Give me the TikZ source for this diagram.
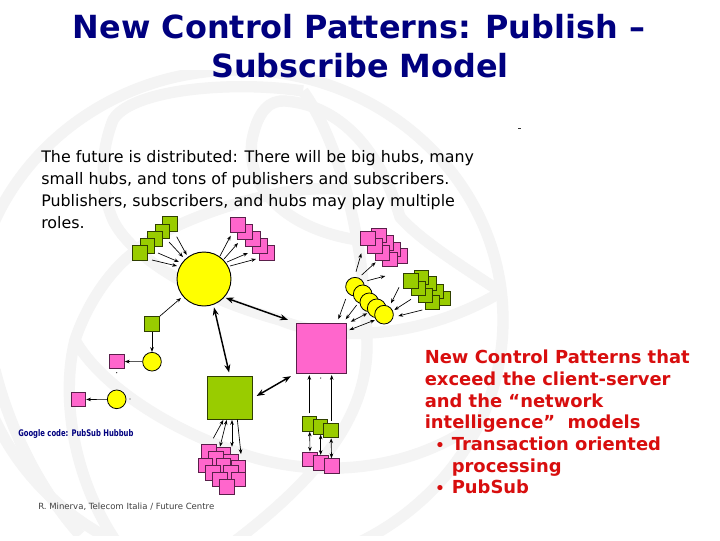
\documentclass[tikz,border=0pt]{standalone}
\usepackage{fontspec}
\setmainfont{DejaVu Sans}
\usetikzlibrary{arrows.meta}
\definecolor{navy}{HTML}{00007F}
\definecolor{redtxt}{HTML}{D80E0E}
\definecolor{pinkbox}{HTML}{FF66CC}
\definecolor{pinkedge}{HTML}{5A1F4A}
\definecolor{greenbox}{HTML}{99CC00}
\definecolor{greenedge}{HTML}{2F3F00}
\definecolor{yel}{HTML}{FFFF00}
\definecolor{wm}{HTML}{F4F4F4}
\tikzset{
  band/.style={draw=wm,line width=8.5pt},
  pinkbx/.style={draw=pinkedge,fill=pinkbox,line width=0.6pt,inner sep=0pt,minimum size=11pt},
  greenbx/.style={draw=greenedge,fill=greenbox,line width=0.6pt,inner sep=0pt,minimum size=10.8pt},
  yelc/.style={circle,draw=black,fill=yel,line width=0.6pt,inner sep=0pt,minimum size=14pt},
  thinarr/.style={-{Stealth[length=3.6pt,width=2.7pt]},line width=0.5pt,black},
  thinboth/.style={{Stealth[length=3.6pt,width=2.7pt]}-{Stealth[length=3.6pt,width=2.7pt]},line width=0.5pt,black},
  thickboth/.style={{Stealth[length=6pt,width=4.5pt]}-{Stealth[length=6pt,width=4.5pt]},line width=1.1pt,black},
  para/.style={anchor=base west,inner sep=0pt,font=\fontsize{11.9pt}{13pt}\selectfont},
  redline/.style={anchor=base west,inner sep=0pt,text=redtxt,font=\fontsize{13.45pt}{15pt}\bfseries\selectfont},
  redbullet/.style={redline,font=\fontsize{11pt}{13pt}\bfseries\selectfont},
  titleline/.style={inner sep=0pt,text=navy,font=\fontsize{23.9pt}{28pt}\bfseries\selectfont},
}
% connector with named free ends
\newcommand{\conn}[4]{\coordinate (#2s) at (#3); \coordinate (#2e) at (#4); \draw[#1] (#2s) -- (#2e);}
\begin{document}
\begin{tikzpicture}[x=0.75pt,y=-0.75pt]
\useasboundingbox (0,0) rectangle (720,540);
\fill[white] (0,0) rectangle (720,540);
% watermark globe
\begin{scope}
\clip (0,70) rectangle (720,535);
\draw[band] (238,320) ellipse [x radius=265,y radius=250];
\draw[band] (303,91) .. controls (230,80) and (130,90) .. (113,120) .. controls (100,153) and (100,190) .. (113,220) .. controls (130,255) and (190,295) .. (280,320) .. controls (340,345) and (430,335) .. (501,292);
\draw[band] (303,91) .. controls (345,150) and (367,260) .. (367,350) .. controls (365,410) and (330,470) .. (230,545);
\draw[band] (75,340) .. controls (100,385) and (170,430) .. (240,453) .. controls (300,475) and (400,480) .. (481,420);
\draw[band] (358,240) .. controls (290,230) and (245,190) .. (252,140) .. controls (258,110) and (270,100) .. (285,101) .. controls (340,105) and (380,150) .. (400,217) .. controls (420,240) and (460,265) .. (501,292);
\draw[band] (345,190) .. controls (280,180) and (160,225) .. (133,253) .. controls (105,275) and (85,310) .. (75,340) .. controls (60,400) and (75,480) .. (115,540);
\draw[band] (-5,370) .. controls (10,430) and (40,490) .. (80,535);
\end{scope}
% title
\node[titleline] (t1) at (359,27) {New Control Patterns: Publish –};
\node[titleline] (t2) at (360,66) {Subscribe Model};
% dash
\coordinate (dashA) at (518,128); \coordinate (dashB) at (521,128);
\draw[line width=0.6pt,black!80] (dashA) -- (dashB);
% paragraph
\node[para] (p1) at (41,162) {The future is distributed: There will be big hubs, many};
\node[para] (p2) at (41,184) {small hubs, and tons of publishers and subscribers.};
\node[para] (p3) at (41,206) {Publishers, subscribers, and hubs may play multiple};
\node[para] (p4) at (41,228) {roles.};
% red text
\node[redline] (r1) at (424.5,363) {New Control Patterns that};
\node[redline] (r2) at (424.5,385) {exceed the client-server};
\node[redline] (r3) at (424.5,407) {and the “network};
\node[redline] (r4) at (424.5,428.5) {intelligence”\ \ models};
\node[redbullet] (rb1) at (435,450.5) {•};
\node[redline] (r5) at (451.5,450.5) {Transaction oriented};
\node[redline] (r6) at (451.5,472) {processing};
\node[redbullet] (rb2) at (435,493.5) {•};
\node[redline] (r7) at (451.5,493.5) {PubSub};
% credit and link
\node[anchor=west,inner sep=0pt,text=black!75,font=\fontsize{6.4pt}{8pt}\selectfont] (cr) at (38,507) {R. Minerva, Telecom Italia / Future Centre};
\node[anchor=west,inner sep=0pt,text=navy,font=\fontsize{6.2pt}{8pt}\bfseries\selectfont] (gc) at (18,434) {\scalebox{0.825}[1.1]{Google code:  PubSub Hubbub}};
% top-left green and pink rows
\foreach \x/\y [count=\i] in {170/224,162.5/231.5,155/239,147.5/246,140/253}
  \node[greenbx] (ga\i) at (\x,\y) {};
\foreach \x/\y [count=\i] in {267/253,260/246,253/239,245/232,238/225}
  \node[pinkbx] (pa\i) at (\x,\y) {};
% hub
\node[circle,draw=black,fill=yel,line width=0.7pt,inner sep=0pt,minimum size=40.5pt] (hub) at (204,279) {};
\conn{thinarr}{f1}{176.7,236.7}{186.7,255}
\conn{thinarr}{f2}{169,242}{183,257}
\conn{thinarr}{f3}{158,253}{179,262}
\conn{thinarr}{f4}{152,260}{177,266}
\conn{thinarr}{h1}{220,256}{230.7,235.7}
\conn{thinarr}{h2}{224,259}{238,243}
\conn{thinarr}{h3}{227,262}{248,253}
\conn{thinarr}{h4}{230,266}{256,259}
% small chains left
\node[greenbx,minimum size=11.2pt] (sg) at (152,324) {};
\node[yelc] (y1) at (152,361.7) {};
\node[pinkbx] (sp1) at (117,361.5) {};
\node[yelc] (y2) at (116.7,399.3) {};
\node[pinkbx] (sp2) at (78.5,399.5) {};
\draw[thinarr] (sg) -- (y1);
\draw[thinarr] (y1) -- (sp1);
\draw[thinarr] (y2) -- (sp2);
\coordinate (sgh) at (181,298);
\draw[thinarr] (sg.north east) -- (sgh);
\fill[black!80] (116.7,372.7) circle (0.7);
\fill[black!80] (130,399) circle (0.7);
% big boxes
\node[draw=pinkedge,fill=pinkbox,line width=0.7pt,inner sep=0pt,minimum size=37.5pt] (bigp) at (321,348) {};
\node[draw=greenedge,fill=greenbox,line width=0.7pt,inner sep=0pt,minimum width=34pt,minimum height=31.7pt] (bigg) at (230,398) {};
\draw[thickboth,shorten <=1pt,shorten >=6pt] (hub.-42) -- (bigp.north west);
\draw[thickboth,shorten <=2pt,shorten >=3pt] (hub.-70) -- (bigg.north);
\draw[thickboth,shorten <=4pt,shorten >=3pt] (bigp.south west) -- (bigg.east);
% right cluster pink
\foreach \x/\y [count=\i] in {361/168,340/148,318/128,296/106,329/178,307/158,285/137,263/115}
  \node[pinkbx] (cp\i) at ({280+\x/3},{200+\y/3}) {};
\foreach \x/\y [count=\i] in {490/295,468/275,447/250,425/232,458/307,437/287,415/265,393/243}
  \node[greenbx] (cg\i) at ({280+\x/3},{200+\y/3}) {};
% chain of yellow circles
\foreach \x/\y [count=\i] in {355/286.7,362.7/294.3,369.3/302.3,376.7/308.3,384/314.7}
  \node[yelc] (yc\i) at (\x,\y) {};
\conn{thinarr}{a1}{356,271.7}{361.3,253.3}
\conn{thinarr}{a2}{361.7,275}{375.7,262.3}
\conn{thinarr}{a3}{367.3,280.7}{385.3,276}
\conn{thinarr}{a4}{399,287.3}{391,303.3}
\conn{thinarr}{a5}{411,299.3}{394.3,310}
\conn{thinarr}{a6}{422.3,310}{398.3,316}
\conn{thinarr}{a7}{345.7,299}{338.3,319.3}
\conn{thinarr}{a8}{356.7,305}{345.7,319.3}
\conn{thinboth}{a9}{367.3,313.3}{350.7,321.7}
\conn{thinboth}{a10}{375,320}{349.3,330}
% bottom pink cluster
\foreach \x/\y [count=\i] in {56/304,100/314,78/326,122/336,46/346,100/346,145/352,68/368,122/368,145/388,90/388,111/410}
  \node[pinkbx] (bc\i) at ({190+\x/3},{350+\y/3}) {};
\conn{thinarr}{b1}{213.3,438.3}{223.3,420}
\conn{thinboth}{b2}{220,446.7}{226.7,420}
\conn{thinboth}{b3}{232,446.7}{232,420}
\conn{thinarr}{b4}{237.3,419.3}{241,454}
% bottom right groups
\foreach \x/\y [count=\i] in {360/328,392/338,425/348}
  \node[pinkbx] (lp\i) at ({190+\x/3},{350+\y/3}) {};
\foreach \x/\y [count=\i] in {359/222,392/231,423/242}
  \node[greenbx] (lg\i) at ({190+\x/3},{350+\y/3}) {};
\coordinate (ug1) at (309.3,375);
\coordinate (ug3) at (331.7,375);
\coordinate (ug1b) at (309.3,413.3);
\coordinate (ug3b) at (331.7,420.7);
\draw[thinarr] (ug1b) -- (ug1);
\draw[thinarr] (ug3b) -- (ug3);
\fill[black!80] (320.7,378) circle (0.7);
\draw[thinboth] (lg1) -- (lp1);
\draw[thinboth] (lg2) -- (lp2);
\draw[thinboth] (lg3) -- (lp3);
\end{tikzpicture}
\end{document}
